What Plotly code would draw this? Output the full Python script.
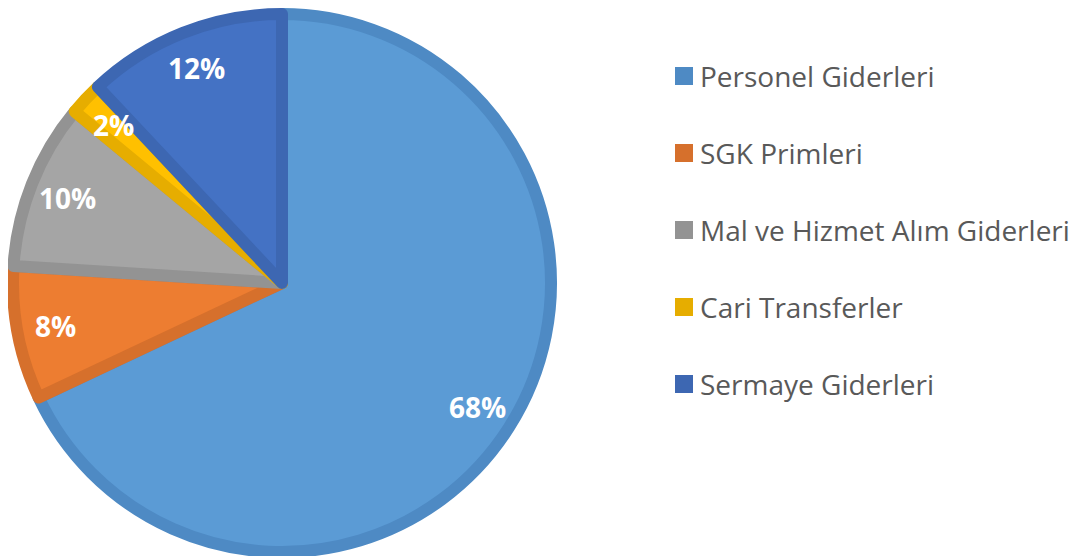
import math
import plotly.graph_objects as go

categories = ["Personel Giderleri", "SGK Primleri", "Mal ve Hizmet Alım Giderleri",
              "Cari Transferler", "Sermaye Giderleri"]
values = [68, 8, 10, 2, 12]
fill_colors = ["#5B9BD5", "#ED7D31", "#A5A5A5", "#FFC000", "#4472C4"]
edge_colors = ["#4E8AC4", "#D6702C", "#939393", "#E6AD00", "#3D67B2"]

# the page body has an 8px margin, so the figure is 8px smaller than the window
W, H = 1075, 548
EDGE = 12
R_OUT = 275
CX, CY = 274, 275
R_FILL = R_OUT - EDGE / 2

dom_x = [(CX - R_FILL) / W, (CX + R_FILL) / W]
dom_y = [1 - (CY + R_FILL) / H, 1 - (CY - R_FILL) / H]

fig = go.Figure(go.Pie(
    labels=categories, values=values, sort=False, direction="clockwise",
    rotation=0, textinfo="none", hoverinfo="label+percent",
    marker=dict(colors=fill_colors, line=dict(color=edge_colors, width=EDGE)),
    domain=dict(x=dom_x, y=dom_y), showlegend=False,
))

total = sum(values)
cum = 0
annotations = []
for v in values:
    mid = (cum + v / 2) / total * 2 * math.pi
    cum += v
    px = CX + 0.84 * R_OUT * math.sin(mid)
    py = CY - 0.84 * R_OUT * math.cos(mid)
    annotations.append(dict(
        x=px / W, y=1 - py / H, xref="paper", yref="paper",
        text=f"{round(v / total * 100)}%", showarrow=False,
        font=dict(family="'Open Sans', sans-serif", size=28, color="white", weight="bold"),
        xanchor="center", yanchor="middle",
    ))

# manual legend
shapes = []
leg_x0, leg_y0, leg_dy, sw = 667, 68, 77, 18
for i, (name, col) in enumerate(zip(categories, edge_colors)):
    yc = leg_y0 + i * leg_dy
    shapes.append(dict(type="rect", xref="paper", yref="paper",
                       x0=leg_x0 / W, x1=(leg_x0 + sw) / W,
                       y0=1 - (yc + sw / 2) / H, y1=1 - (yc - sw / 2) / H,
                       fillcolor=col, line=dict(width=0)))
    annotations.append(dict(
        x=(leg_x0 + sw + 5) / W, y=1 - yc / H, xref="paper", yref="paper",
        text=name, showarrow=False, xanchor="left", yanchor="middle",
        font=dict(family="'Open Sans', sans-serif", size=28, color="#595959"),
    ))

fig.update_layout(
    width=W, height=H, margin=dict(l=0, r=0, t=0, b=0),
    paper_bgcolor="white", plot_bgcolor="white",
    shapes=shapes, annotations=annotations,
)

fig.write_html("out.html")
